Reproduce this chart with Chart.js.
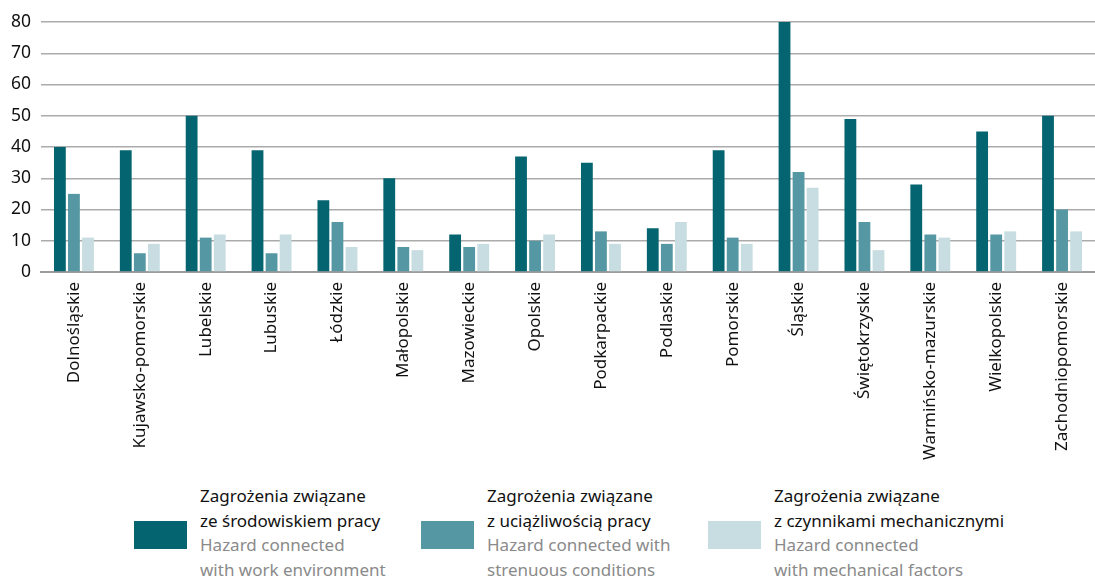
<!DOCTYPE html>
<html>
<head>
<meta charset="utf-8">
<script src="https://cdn.jsdelivr.net/npm/chart.js@4.4.1/dist/chart.umd.min.js"></script>
<style>
  html, body { margin: 0; padding: 0; background: #fff; }
  body { width: 1095px; height: 583px; position: relative; overflow: hidden; font-family: 'Noto Sans', sans-serif; }
  #wrap { position: absolute; left: 0; top: 0; width: 1095px; height: 470px; }
  .legend-item { position: absolute; top: 484px; }
  .swatch { position: absolute; width: 53px; height: 28px; top: 37px; }
  .legend-text { position: absolute; font-size: 17px; line-height: 24.5px; white-space: nowrap; }
  .pl { color: #111; }
  .en { color: #8a8a8a; }
</style>
</head>
<body>
<div id="wrap"><canvas id="chart"></canvas></div>
<div id="legend"></div>
<script>
  'use strict'

  // Categories (voivodeships)
  const regions = [
    'Dolnośląskie', 'Kujawsko-pomorskie', 'Lubelskie', 'Lubuskie', 'Łódzkie', 'Małopolskie',
    'Mazowieckie', 'Opolskie', 'Podkarpackie', 'Podlaskie', 'Pomorskie', 'Śląskie',
    'Świętokrzyskie', 'Warmińsko-mazurskie', 'Wielkopolskie', 'Zachodniopomorskie'
  ]

  // Series values
  const workEnvironment = [40, 39, 50, 39, 23, 30, 12, 37, 35, 14, 39, 80, 49, 28, 45, 50]
  const strenuousConditions = [25, 6, 11, 6, 16, 8, 8, 10, 13, 9, 11, 32, 16, 12, 12, 20]
  const mechanicalFactors = [11, 9, 12, 12, 8, 7, 9, 12, 9, 16, 9, 27, 7, 11, 13, 13]

  const yTicks = [0, 10, 20, 30, 40, 50, 60, 70, 80]

  const seriesLabelsPl = [
    ['Zagrożenia związane', 'ze środowiskiem pracy'],
    ['Zagrożenia związane', 'z uciążliwością pracy'],
    ['Zagrożenia związane', 'z czynnikami mechanicznymi']
  ]
  const seriesLabelsEn = [
    ['Hazard connected', 'with work environment'],
    ['Hazard connected with', 'strenuous conditions'],
    ['Hazard connected', 'with mechanical factors']
  ]
  const colors = ['#04646f', '#5597a2', '#c7dde1']

  const canvas = document.getElementById('chart')
  canvas.width = 1095
  canvas.height = 470

  const datasetValues = [workEnvironment, strenuousConditions, mechanicalFactors]

  new Chart(canvas, {
    type: 'bar',
    data: {
      labels: regions,
      datasets: datasetValues.map((values, i) => ({
        label: seriesLabelsPl[i].join(' '),
        data: values,
        backgroundColor: colors[i],
        borderWidth: 0,
        barPercentage: 0.84,
        categoryPercentage: 0.64,
      })),
    },
    options: {
      responsive: false,
      animation: false,
      layout: { padding: { top: 22, right: 0, left: 0, bottom: 0 } },
      scales: {
        x: {
          grid: { display: false, drawTicks: false },
          border: { display: true, color: '#9c9c9c', width: 2 },
          ticks: {
            color: '#111',
            font: { family: 'Noto Sans', size: 17 },
            maxRotation: 90,
            minRotation: 90,
            padding: 10,
            autoSkip: false,
          },
          afterFit: (scale) => { scale.height = 470 - 272 },
        },
        y: {
          min: 0,
          max: 80,
          afterBuildTicks: (scale) => { scale.ticks = yTicks.map((v) => ({ value: v })) },
          grid: { color: '#ababab', lineWidth: 1.5, drawTicks: false },
          border: { display: false },
          ticks: {
            color: '#111',
            font: { family: 'Noto Sans', size: 17.5 },
            padding: 10,
          },
          afterFit: (scale) => { scale.width = 41 },
        },
      },
      plugins: {
        legend: { display: false },
        tooltip: { enabled: false },
      },
    },
  })

  // HTML legend below the chart
  const legendEl = document.getElementById('legend')
  const legendX = [134, 421, 708]
  seriesLabelsPl.forEach((pl, i) => {
    const item = document.createElement('div')
    item.className = 'legend-item'
    item.style.left = legendX[i] + 'px'
    const sw = document.createElement('div')
    sw.className = 'swatch'
    sw.style.background = colors[i]
    item.appendChild(sw)
    const txt = document.createElement('div')
    txt.className = 'legend-text'
    txt.style.left = '66px'
    txt.innerHTML = pl.map((l) => '<div class="pl">' + l + '</div>').join('') +
      seriesLabelsEn[i].map((l) => '<div class="en">' + l + '</div>').join('')
    item.appendChild(txt)
    legendEl.appendChild(item)
  })
</script>
</body>
</html>
